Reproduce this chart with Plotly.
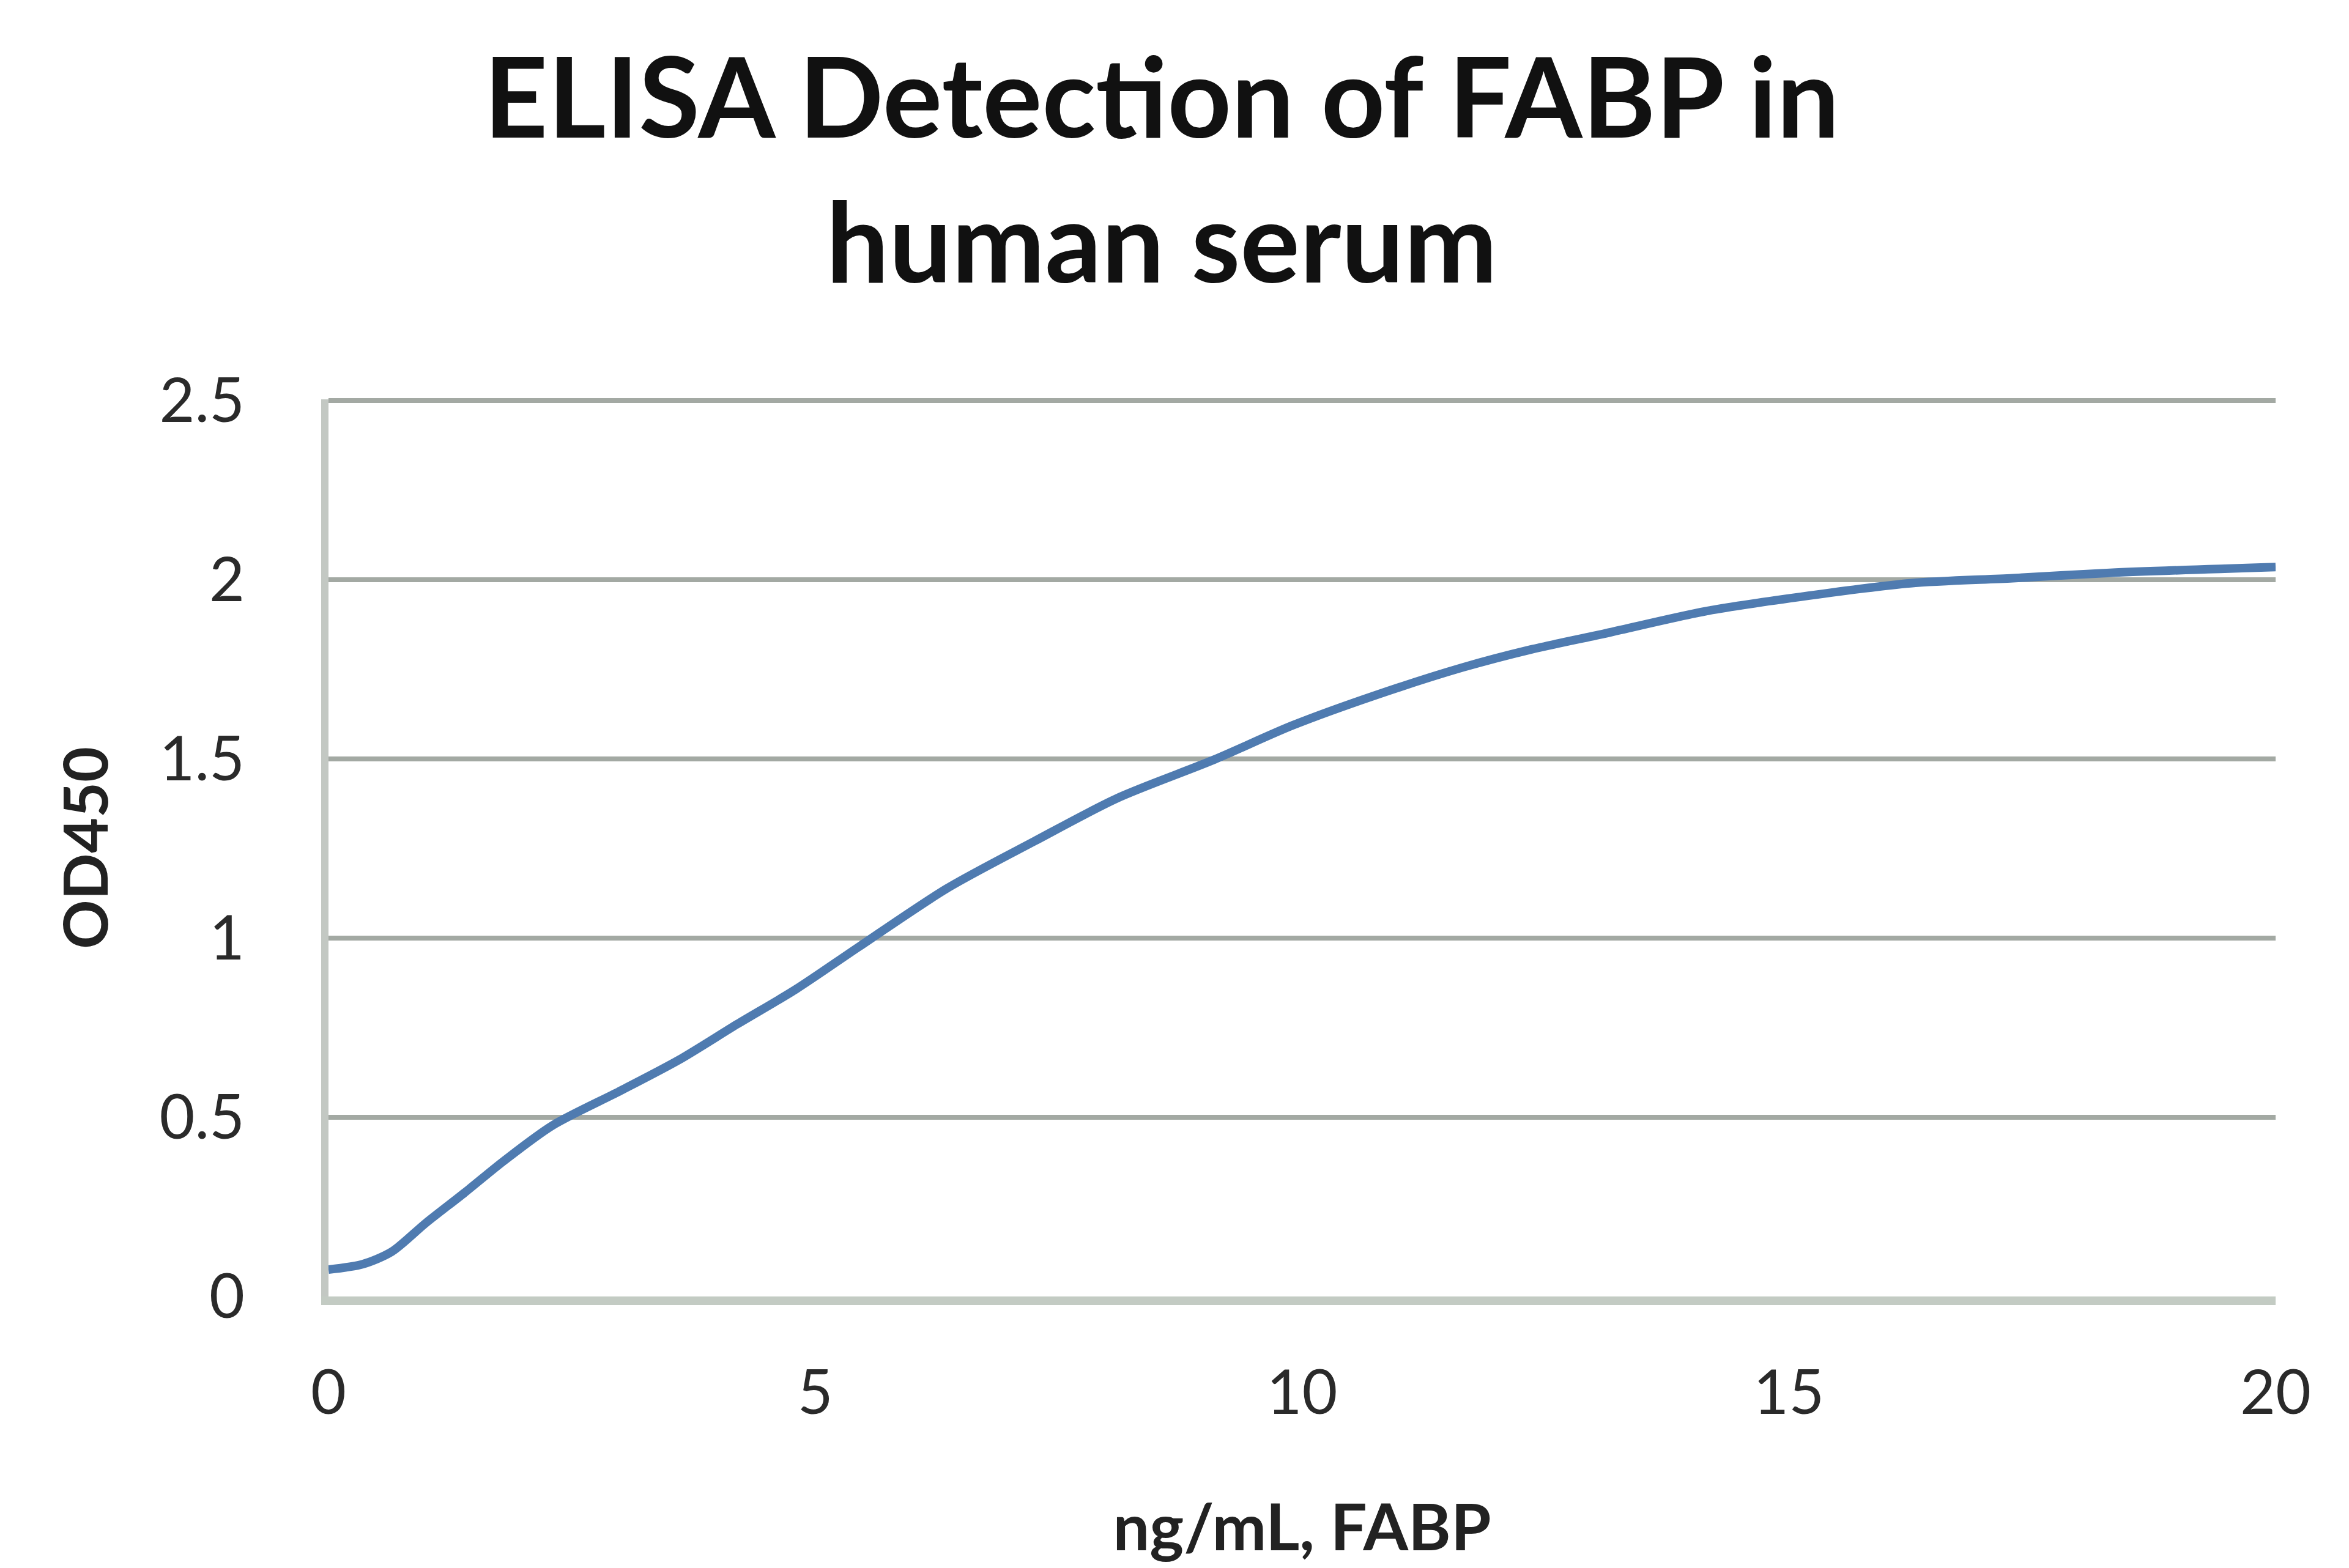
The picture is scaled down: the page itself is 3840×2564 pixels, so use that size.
import plotly.graph_objects as go

# Values
conc_ng_ml = [0, 0.35, 0.65, 1.0, 1.4, 1.8, 2.3, 3.0, 3.6, 4.2, 4.8, 5.45, 6.35,
              7.25, 8.1, 9.1, 9.9, 10.75, 11.65, 12.35, 13.1, 14.15, 15.2, 16.25,
              17.3, 18.3, 20]
od450 = [0.075, 0.09, 0.125, 0.205, 0.29, 0.378, 0.477, 0.574, 0.66, 0.76, 0.857,
         0.976, 1.138, 1.27, 1.39, 1.498, 1.593, 1.677, 1.755, 1.805, 1.849, 1.912,
         1.955, 1.99, 2.004, 2.019, 2.035]

x_ticks = [0, 5, 10, 15, 20]
y_ticks = [0, 0.5, 1, 1.5, 2, 2.5]
y_tick_labels = ["0", "0.5", "1", "1.5", "2", "2.5"]

title_text = "ELISA Detection of FABP in<br>human serum"
x_title = "ng/mL, FABP"
y_title = "OD450"

FONT = "Lato"

fig = go.Figure()
fig.add_trace(go.Scatter(
    x=conc_ng_ml, y=od450, mode="lines",
    line=dict(color="#4f7bb0", width=14, shape="spline", smoothing=0.8),
    showlegend=False, hoverinfo="skip",
))

# plot area: left 529 px, width 3183 px; top 645 px, bottom 2112 px -> height 1467 px
fig.add_annotation(
    text=title_text, xref="paper", yref="paper",
    x=(1891 - 529) / 3183, xanchor="center", y=(2112 - 35) / 1467, yanchor="top",
    showarrow=False, align="center",
    font=dict(family=FONT, size=182, color="#111111", weight="bold"),
)

fig.update_layout(
    width=3840, height=2564,
    paper_bgcolor="white", plot_bgcolor="white",
    margin=dict(l=529, r=128, t=645, b=452),
    font=dict(family=FONT, color="#222222"),
    showlegend=False,
)

fig.update_xaxes(
    range=[0, 20], tickmode="array", tickvals=x_ticks,
    ticktext=[str(v) for v in x_ticks],
    tickfont=dict(family=FONT, size=100, color="#2a2a2a"),
    ticks="outside", ticklen=58, tickcolor="rgba(0,0,0,0)",
    showgrid=False, zeroline=False,
    showline=True, linecolor="#c3cbc3", linewidth=14,
    title=dict(text=x_title, standoff=135,
               font=dict(family=FONT, size=106, color="#222222", weight="bold")),
)

fig.update_yaxes(
    range=[0, 2.503], tickmode="array", tickvals=y_ticks, ticktext=y_tick_labels,
    tickfont=dict(family=FONT, size=100, color="#2a2a2a"),
    ticks="outside", ticklen=105, tickcolor="rgba(0,0,0,0)",
    showgrid=True, gridcolor="#a3a9a3", gridwidth=8,
    zeroline=False,
    showline=True, linecolor="#c3c8c3", linewidth=12,
    title=dict(text=y_title, standoff=55,
               font=dict(family=FONT, size=100, color="#222222", weight="bold")),
)

fig.write_html("out.html")
